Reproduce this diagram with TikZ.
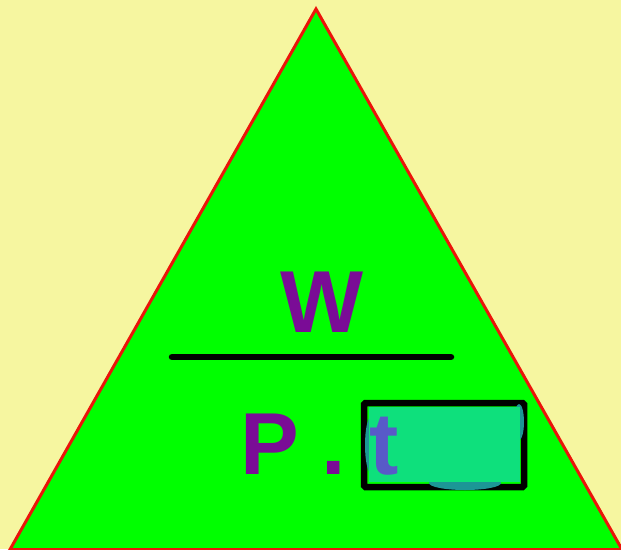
\documentclass[tikz,border=0pt]{standalone}
\usepackage{fontspec}
\setmainfont{Liberation Sans}
\definecolor{bgyellow}{RGB}{246,246,160}
\definecolor{trigreen}{RGB}{0,255,0}
\definecolor{trired}{RGB}{235,20,10}
\definecolor{letterpurple}{RGB}{122,12,150}
\definecolor{tblue}{RGB}{88,90,200}
\definecolor{boxfill}{RGB}{14,224,124}
\definecolor{blobteal}{RGB}{28,150,150}
\begin{document}
\begin{tikzpicture}[x=1pt,y=-1pt,
  bigletter/.style={inner sep=0pt,outer sep=0pt,font=\fontsize{88}{88}\selectfont\bfseries,text=letterpurple},
  fracline/.style={line width=6.5pt,line cap=round,black},
  boxborder/.style={draw=black,line width=6.5pt,rounded corners=1.5pt},
  blob/.style={fill=blobteal}]
\useasboundingbox (0,0) rectangle (621,549);
\fill[bgyellow] (0,0) rectangle (621,549);
\begin{scope}
\clip (0,0) rectangle (621,549);
\coordinate (apex) at (316,9);
\coordinate (bl) at (10,549.5);
\coordinate (br) at (622,549.5);
\filldraw[fill=trigreen,draw=trired,line width=3pt,line join=miter] (apex) -- (bl) -- (br) -- cycle;
\end{scope}
\node[bigletter,anchor=base] (W) at (322.5,332) {W};
\coordinate (lineL) at (172,357);
\coordinate (lineR) at (451,357);
\draw[fracline] (lineL) -- (lineR);
\node[bigletter,anchor=base west] (P) at (240.5,474) {P};
\node[bigletter,anchor=base] (dot) at (334,474) {.};
\draw[boxborder] (364,403) rectangle (524,487);
\fill[blob] (371,445) ellipse [x radius=6,y radius=28];
\fill[blob] (465,483) ellipse [x radius=36,y radius=7];
\fill[blob] (519,422) ellipse [x radius=5,y radius=18];
\fill[boxfill] (369,406.5) rectangle (520,481.5);
\node[bigletter,text=tblue,anchor=base] (t) at (384.5,474) {t};
\end{tikzpicture}
\end{document}
